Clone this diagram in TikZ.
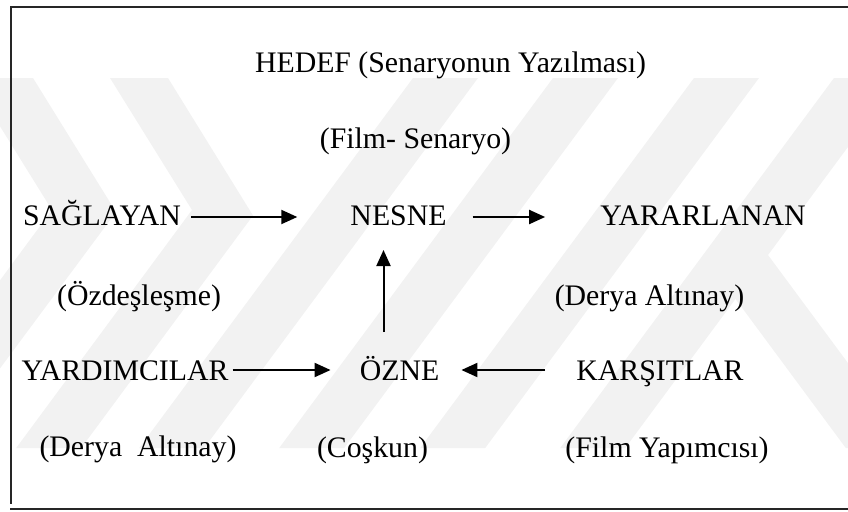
\documentclass[tikz,border=0pt]{standalone}
\usepackage{fontspec}
\setmainfont{Liberation Serif}
\usetikzlibrary{arrows.meta,calc}
\begin{document}
\begin{tikzpicture}[x=1pt,y=-1pt,
  lbl/.style={font=\fontsize{29.8}{35}\selectfont, inner sep=0pt, anchor=base},
  arr/.style={line width=2pt, -{Triangle[length=16pt,width=14pt]}},
  wm/.style={fill=black!5, draw=none},
  frame/.style={line width=1.6pt, draw=black!85}]
\useasboundingbox (0,0) rectangle (848,511);

% faint background emblem made of slanted stripes
\begin{scope}
  \clip (0,0) rectangle (848,511);
  % rising stripes
  \fill[wm] (413,78) -- (478,78) -- (204.2,448) -- (139.2,448) -- cycle;
  \fill[wm] (553,78) -- (618,78) -- (344.2,448) -- (279.2,448) -- cycle;
  \fill[wm] (694,78) -- (759,78) -- (485.2,448) -- (420.2,448) -- cycle;
  \fill[wm] (834,78) -- (899,78) -- (625.2,448) -- (560.2,448) -- cycle;
  % falling stripe branching off to the lower right
  \fill[wm] (703,255) -- (768,255) -- (910.8,448) -- (845.8,448) -- cycle;
  % chevrons on the left
  \fill[wm] (110,78) -- (168,78) -- (253,215.5) -- (81.2,448) -- (16.2,448) -- (192,210) -- cycle;
  \fill[wm] (-30,78) -- (33,78) -- (116,212) -- (-59,448) -- (-124,448) -- (52,210) -- cycle;
\end{scope}

% frame
\draw[frame] (10,7) -- (848,7);
\draw[frame] (11,7) -- (11,504);
\draw[frame] (10,509) -- (848,509);

% labels
\node[lbl] (hedef) at (450.5,72) {HEDEF (Senaryonun Yazılması)};
\node[lbl] (film)  at (415.5,148) {(Film- Senaryo)};
\node[lbl] (sag)   at (102,225) {SAĞLAYAN};
\node[lbl] (nes)   at (398.5,225) {NESNE};
\node[lbl] (yar)   at (703,225) {YARARLANAN};
\node[lbl] (ozd)   at (139,305) {(Özdeşleşme)};
\node[lbl] (derR)  at (649.5,305) {(Derya Altınay)};
\node[lbl] (yrd)   at (125,380) {YARDIMCILAR};
\node[lbl] (ozn)   at (399.5,380) {ÖZNE};
\node[lbl] (kar)   at (660,380) {KARŞITLAR};
\node[lbl] (derL)  at (138,456) {(Derya~~Altınay)};
\node[lbl] (cos)   at (372.5,457) {(Coşkun)};
\node[lbl] (yap)   at (667,457) {(Film Yapımcısı)};

% connectors
\draw[arr] ($(sag.base east)+(10,-8)$) -- ($(nes.base west)+(-53,-8)$);
\draw[arr] ($(nes.base east)+(26,-8)$) -- ($(yar.base west)+(-55,-8)$);
\draw[arr] ($(ozn.base)+(-16,-48)$) -- ($(nes.base)+(-15,25)$);
\draw[arr] ($(yrd.base east)+(4,-10)$) -- ($(ozn.base west)+(-29,-10)$);
\draw[arr] ($(kar.base west)+(-31,-10)$) -- ($(ozn.base east)+(22,-10)$);
\end{tikzpicture}
\end{document}
